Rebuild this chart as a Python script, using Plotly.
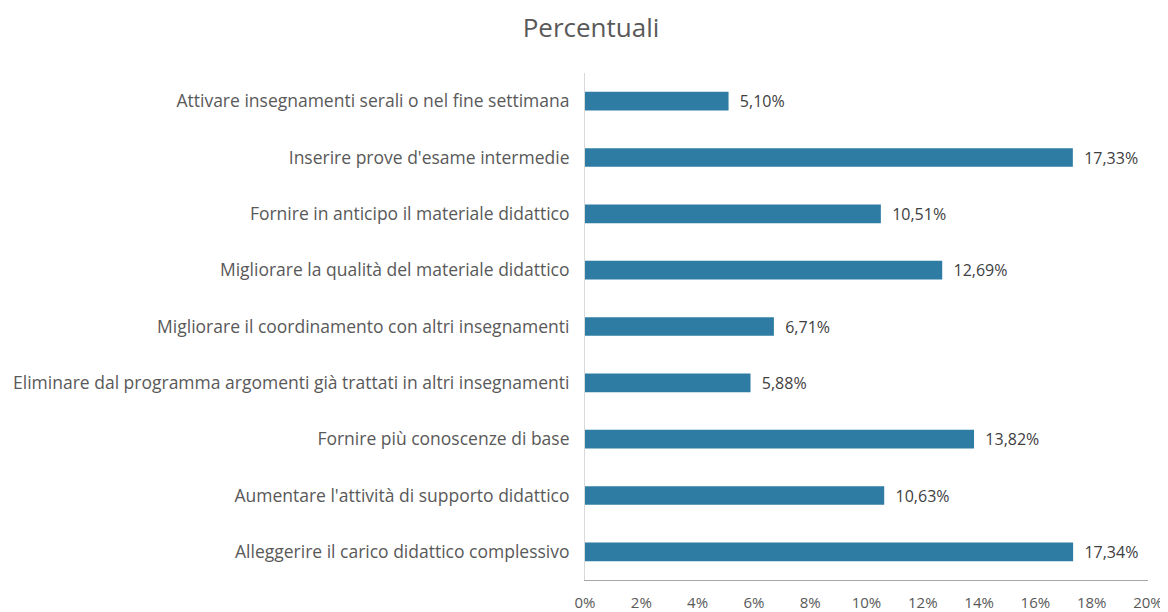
import plotly.graph_objects as go

# categories listed bottom to top (as plotted)
categories = [
    "Alleggerire il carico didattico complessivo",
    "Aumentare l'attività di supporto didattico",
    "Fornire più conoscenze di base",
    "Eliminare dal programma argomenti già trattati in altri insegnamenti",
    "Migliorare il coordinamento con altri insegnamenti",
    "Migliorare la qualità del materiale didattico",
    "Fornire in anticipo il materiale didattico",
    "Inserire prove d'esame intermedie",
    "Attivare insegnamenti serali o nel fine settimana",
]
percentuali = [17.34, 10.63, 13.82, 5.88, 6.71, 12.69, 10.51, 17.33, 5.10]

x_ticks = list(range(0, 21, 2))

FONT = 'Open Sans'

fig = go.Figure()
fig.add_trace(go.Bar(
    x=percentuali,
    y=categories,
    orientation='h',
    marker=dict(color='#2e7ca3', line=dict(width=0)),
    width=0.33,
    text=['\u00a0\u00a0' + f"{v:.2f}".replace('.', ',') + '%' for v in percentuali],
    textposition='outside',
    constraintext='none',
    textfont=dict(size=16, color='#404040', family=FONT),
    cliponaxis=False,
    showlegend=False,
))

fig.update_layout(
    title=dict(text="Percentuali", x=0.5026, xanchor='center', y=0.967, yanchor='middle',
               font=dict(family=FONT, size=26, color='#595959')),
    xaxis=dict(
        range=[0, 20],
        tickvals=x_ticks,
        ticktext=[f"{t}%" for t in x_ticks],
        tickfont=dict(size=15, color='#595959', family=FONT),
        showgrid=False,
        zeroline=False,
        showline=True,
        linecolor='#a6a6a6',
        linewidth=1,
        ticks='',
        ticklabelstandoff=9,
        automargin=False,
    ),
    yaxis=dict(
        tickfont=dict(size=17.5, color='#595959', family=FONT),
        showgrid=False,
        showline=True,
        linecolor='#d9d9d9',
        linewidth=1,
        ticks='',
        ticklabelstandoff=11,
        automargin=False,
    ),
    bargap=0.67,
    margin=dict(l=577, r=20, t=65, b=32),
    plot_bgcolor='white',
    paper_bgcolor='white',
    width=1160,
    height=604,
    font=dict(family=FONT, color='#595959'),
)

fig.write_html("out.html")
